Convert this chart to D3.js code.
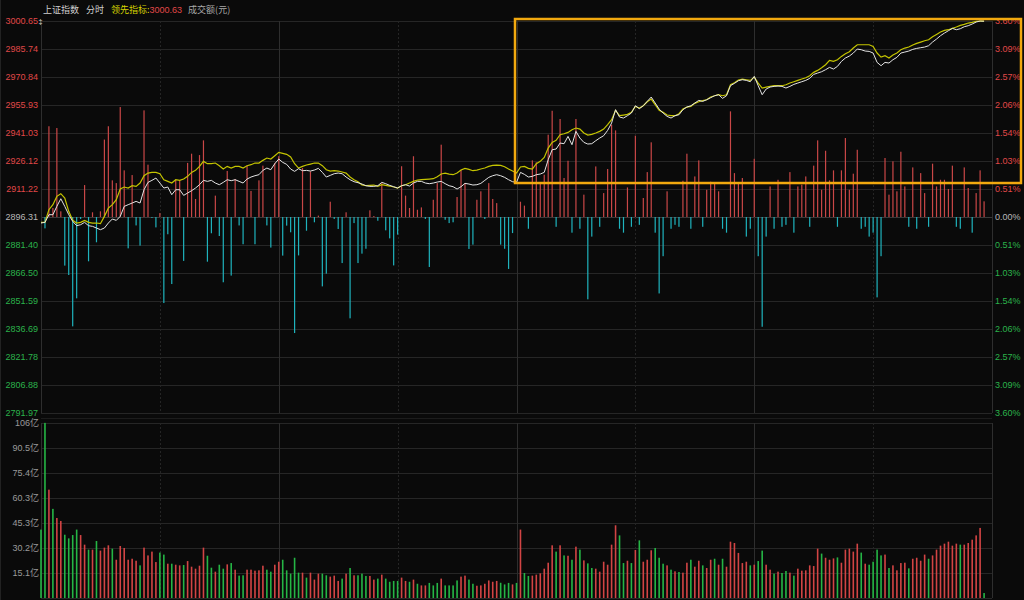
<!DOCTYPE html>
<html><head><meta charset="utf-8">
<script src="https://cdn.jsdelivr.net/npm/d3@7"></script>
<style>body{margin:0;background:#0a0a0a;overflow:hidden}svg{display:block}</style>
</head><body><svg id="c" width="1024" height="600"></svg>
<script>
const prevClose = 2896.31;
const priceTicks = [3000.65,2985.74,2970.84,2955.93,2941.03,2926.12,2911.22,2896.31,2881.40,2866.50,2851.59,2836.69,2821.78,2806.88,2791.97];
const pctTicks = ["3.60%","3.09%","2.57%","2.06%","1.54%","1.03%","0.51%","0.00%","0.51%","1.03%","1.54%","2.06%","2.57%","3.09%","3.60%"];
const volTickValues = [105.63,90.54,75.45,60.36,45.27,30.18,15.09];
const volTickLabels = ["106亿","90.5亿","75.4亿","60.3亿","45.3亿","30.2亿","15.1亿"];
const headerName = "上证指数", headerMode = "分时", headerLead = "领先指标:", headerLeadValue = "3000.63", headerVol = "成交额(元)";

const price = [2893.10,2893.45,2897.53,2897.53,2901.97,2906.05,2901.97,2897.53,2893.99,2891.68,
2892.21,2893.45,2891.68,2891.32,2890.44,2889.55,2890.44,2893.10,2895.23,2894.52,
2896.65,2901.97,2902.86,2903.74,2904.63,2903.74,2910.84,2914.75,2915.81,2917.05,
2914.39,2911.73,2912.26,2908.18,2910.84,2910.84,2907.83,2909.07,2910.31,2911.73,
2913.50,2915.81,2915.28,2915.81,2914.39,2913.50,2914.75,2916.16,2915.63,2916.16,
2915.28,2914.39,2916.52,2917.58,2918.29,2918.83,2921.13,2922.37,2921.49,2924.68,
2927.17,2925.39,2924.33,2921.84,2920.60,2922.02,2920.95,2921.13,2920.78,2921.31,
2922.20,2920.07,2917.58,2918.47,2919.36,2919.71,2919.36,2917.58,2916.16,2915.10,
2914.57,2913.86,2912.97,2912.62,2912.62,2912.97,2914.74,2914.04,2913.15,2912.44,
2911.73,2912.97,2913.50,2912.79,2914.39,2915.28,2915.28,2914.39,2914.04,2914.39,
2914.92,2915.28,2914.04,2912.97,2912.44,2911.20,2912.44,2914.21,2913.86,2913.33,
2913.50,2914.21,2915.81,2917.41,2918.29,2918.83,2918.29,2917.41,2916.16,2915.10,
2914.74,2920.07,2919.00,2917.58,2917.94,2918.83,2919.18,2920.07,2926.81,2932.13,
2932.49,2935.68,2935.33,2939.23,2934.79,2941.89,2938.34,2936.04,2935.15,2935.33,
2936.92,2938.34,2939.59,2942.42,2946.33,2953.43,2949.52,2948.99,2950.23,2951.65,
2955.55,2953.96,2955.55,2957.86,2960.17,2956.97,2953.78,2951.65,2949.88,2948.99,
2950.23,2950.76,2953.43,2954.84,2955.55,2956.97,2958.39,2957.86,2958.75,2959.81,
2960.88,2961.41,2959.46,2960.88,2966.20,2967.44,2968.86,2969.39,2969.04,2968.33,
2971.17,2966.20,2961.41,2964.43,2965.49,2965.84,2966.02,2965.84,2964.96,2965.84,
2966.91,2967.62,2968.33,2969.04,2970.10,2972.23,2972.94,2973.65,2974.72,2975.96,
2975.07,2976.49,2979.15,2980.93,2981.99,2983.59,2985.72,2985.36,2984.65,2984.48,
2983.59,2978.62,2976.85,2978.62,2978.27,2980.04,2981.28,2983.59,2984.12,2984.65,
2985.54,2986.07,2986.43,2986.78,2987.49,2989.44,2991.04,2992.82,2994.23,2995.48,
2996.72,2996.01,2996.54,2997.60,2998.14,2999.03,3000.09,3000.65,3000.55];

const leading = [2893.45,2893.45,2900.20,2902.86,2907.29,2908.71,2906.41,2899.31,2894.52,2893.10,
2893.45,2894.52,2893.45,2893.10,2893.10,2892.74,2896.65,2901.08,2902.86,2905.52,
2911.20,2912.26,2911.73,2912.97,2912.62,2914.39,2918.29,2919.71,2920.07,2920.07,
2919.36,2916.16,2915.28,2914.39,2916.16,2915.81,2916.52,2917.94,2920.07,2921.13,
2923.26,2925.92,2924.68,2924.68,2925.04,2923.62,2921.84,2923.26,2922.37,2923.26,
2923.26,2922.37,2923.62,2924.15,2925.04,2925.04,2926.46,2927.70,2927.17,2928.94,
2930.71,2930.18,2929.65,2928.23,2924.68,2922.37,2923.26,2923.97,2924.50,2925.04,
2925.04,2923.62,2921.49,2920.78,2920.95,2920.78,2920.25,2919.71,2917.58,2916.16,
2915.10,2913.33,2912.97,2913.15,2913.33,2912.62,2913.50,2913.15,2912.79,2912.26,
2911.73,2912.97,2913.50,2914.39,2915.28,2915.99,2916.16,2916.34,2916.52,2916.70,
2917.76,2919.18,2919.71,2919.18,2918.83,2919.71,2921.31,2922.20,2921.66,2920.95,
2921.31,2921.84,2922.37,2923.26,2923.79,2923.97,2923.79,2923.08,2921.84,2920.78,
2919.71,2922.91,2923.26,2922.20,2921.84,2924.68,2925.92,2928.05,2933.02,2936.04,
2937.10,2940.12,2940.65,2941.36,2942.78,2943.67,2943.13,2941.01,2939.94,2940.29,
2941.01,2941.89,2943.13,2945.44,2948.10,2953.07,2950.23,2950.59,2950.94,2952.01,
2955.20,2954.31,2955.55,2957.68,2959.10,2956.09,2953.07,2952.01,2950.59,2950.23,
2950.23,2951.30,2953.78,2954.84,2955.20,2956.80,2957.68,2958.22,2958.75,2960.17,
2960.88,2961.41,2960.88,2961.41,2966.73,2967.80,2969.22,2969.75,2969.39,2969.04,
2970.81,2967.62,2964.96,2965.49,2965.84,2966.20,2966.20,2966.20,2966.73,2967.62,
2968.33,2969.04,2969.75,2970.46,2971.52,2973.30,2974.36,2975.78,2977.38,2979.69,
2979.15,2980.04,2981.81,2983.23,2984.30,2986.25,2988.02,2988.02,2988.02,2988.02,
2987.14,2983.59,2981.46,2982.17,2980.93,2982.52,2983.59,2985.36,2986.25,2986.78,
2987.85,2988.73,2989.44,2990.15,2990.68,2992.28,2993.52,2994.77,2995.65,2996.01,
2996.72,2997.43,2998.31,2998.85,2999.56,2999.91,3000.44,3000.63,3000.63];

// buy/sell strength bars (percent of half panel), + red, - cyan
const strength = [0,-5.8,46.3,4.6,45.4,2.9,-24.8,-29.6,-55.8,-41.5,
-1.0,16.3,-22.6,2.4,-12.9,2.9,39.5,46.3,18.7,17.3,
56.1,23.8,-16.0,21.4,-4.3,-14.6,54.4,26.7,-0.5,-5.3,
2.0,-43.9,-8.8,-34.2,19.0,18.7,-22.4,27.6,32.3,9.2,
31.6,39.1,-22.8,-8.3,10.9,-9.7,-33.3,23.5,-29.9,19.4,
-4.3,-13.9,26.2,13.3,-13.9,18.7,26.2,-4.3,-15.6,27.6,
31.0,-19.7,-4.4,-7.8,-59.2,-19.6,25.0,-7.0,23.3,-2.7,
0.7,-35.4,-28.9,7.8,-1.0,-6.1,-23.5,2.4,-51.7,-3.1,
-23.5,-18.7,-16.2,3.4,0.5,-1.9,17.3,-6.8,-10.9,-24.7,
-9.0,25.9,10.9,4.6,31.0,3.7,4.9,-1.0,-25.5,8.8,
17.3,36.9,-1.4,-3.1,-2.7,10.2,24.1,17.3,-16.3,-14.1,
8.8,13.1,-1.0,17.3,9.2,7.1,-14.1,-16.2,-26.5,-8.2,
0,7.8,5.8,-6.0,28.9,27.9,17.8,21.6,42.0,54.2,
-5.0,50.0,19.9,28.7,-8.0,50.0,-6.0,11.4,-42.0,-10.0,
25.8,-5.0,12.2,24.5,47.1,44.2,-6.0,-8.0,15.1,-5.0,
41.5,-4.0,9.7,22.9,38.1,-8.0,-39.0,-20.0,13.1,-6.0,
-4.0,-5.0,18.5,32.3,-6.0,20.7,28.9,-5.0,13.9,18.0,
17.3,13.1,-6.0,-8.0,53.9,22.4,17.3,19.9,-10.0,-6.0,
29.7,-20.0,-56.0,-10.0,15.6,-6.0,19.0,-5.0,-4.0,22.9,
-8.0,15.6,16.5,20.7,-5.0,26.2,39.1,13.9,33.8,18.7,
23.8,-5.0,23.8,40.3,13.9,22.1,34.3,-6.0,-5.0,-10.0,
-8.0,-41.0,-20.0,30.1,11.4,28.4,13.1,33.3,15.6,-5.0,
25.3,-6.0,22.4,12.2,-5.0,27.2,15.6,19.0,19.0,14.3,
26.2,-5.0,-6.0,25.3,14.8,-8.0,12.2,23.8,8.0];

const volume = [41.3,105.7,65.4,53.8,48.3,46.5,38.2,36.0,38.0,41.3,
38.0,32.2,29.2,29.2,34.4,28.6,30.4,31.8,29.8,23.1,
31.4,30.2,23.1,23.7,22.5,19.7,30.4,25.7,28.0,21.7,
27.4,26.2,20.7,20.7,20.1,19.7,19.9,22.3,18.9,17.7,
19.5,30.4,25.5,18.3,15.9,20.1,17.7,20.3,21.1,17.1,
13.5,13.7,17.1,17.1,16.5,16.7,19.5,17.1,15.9,20.1,
21.9,23.1,16.7,14.7,24.3,15.3,15.3,12.3,15.3,11.1,
14.7,14.7,13.7,12.9,13.5,10.3,11.7,14.7,18.1,13.7,
13.7,14.7,13.3,13.3,11.1,11.7,14.1,11.7,9.8,10.3,
10.3,12.3,10.3,9.8,11.1,8.6,7.6,7.6,9.1,7.6,
9.1,11.7,7.6,7.6,7.6,10.6,12.9,13.5,11.1,8.6,
7.4,7.6,8.6,10.6,9.8,10.3,9.2,8.2,9.1,8.2,
9.1,41.3,15.1,13.3,13.5,14.1,14.9,17.7,21.3,31.8,
28.0,31.8,25.7,25.5,23.1,31.0,29.2,22.7,20.9,18.1,
17.7,15.9,21.9,20.1,32.2,43.9,37.8,21.1,22.5,21.1,
29.0,34.8,21.9,23.1,28.8,30.2,24.3,20.7,19.7,17.1,
16.1,15.7,15.3,21.3,23.1,18.9,22.5,19.7,18.1,23.1,
23.7,20.1,23.7,18.9,34.0,33.2,27.2,21.1,21.9,19.7,
20.1,22.3,28.6,20.1,17.1,14.7,15.9,15.1,16.3,15.3,
13.5,17.7,16.5,16.7,19.7,19.3,29.8,26.8,24.3,23.1,
23.9,24.5,21.3,29.2,29.8,28.0,32.8,27.4,20.7,20.1,
21.9,29.2,25.7,26.2,18.1,19.7,16.7,21.1,21.3,17.9,
23.7,24.3,22.5,26.2,23.7,25.7,29.2,31.6,32.8,34.0,
31.6,32.8,32.2,32.2,33.2,35.2,37.8,42.3,3.0];

// 1 = up minute (red), 0 = down minute (green)
const volUp = [0,0,1,0,1,1,0,0,0,0, 1,1,0,1,0,1,1,1,0,1,
1,1,1,1,1,0,1,1,1,1, 0,0,1,0,1,1,0,1,1,1,
1,1,0,0,1,0,0,1,0,1, 0,0,1,1,1,1,1,0,0,1,
1,0,0,0,0,0,1,0,1,1, 1,0,0,1,1,1,0,1,0,1,
0,0,0,1,1,0,1,0,0,0, 0,1,1,0,1,0,1,1,0,0,
0,1,0,0,0,0,1,1,0,0, 1,1,1,1,1,1,0,0,0,1,
0,1,0,0,1,1,1,1,1,1, 0,1,0,1,0,1,0,1,0,0,
1,1,1,1,1,1,0,0,1,0, 1,0,1,1,1,0,0,0,1,0,
1,0,1,1,0,1,1,0,1,1, 0,1,0,1,1,1,1,1,1,0,
1,0,0,1,1,0,1,0,0,1, 0,1,1,1,1,1,1,0,1,1,
1,0,1,1,1,1,1,0,1,0, 0,0,0,1,0,1,1,1,1,0,
1,1,1,1,0,1,1,1,1,1, 1,1,0,1,1,1,1,1,0];

const W = 1024, H = 600;
const L = 41, R = 992;
const svg = d3.select("#c");
svg.append("rect").attr("width",W).attr("height",H).attr("fill","#0a0a0a");

const x = d3.scaleLinear().domain([0,240]).range([L,R]);
const yP = d3.scaleLinear().domain([priceTicks[priceTicks.length-1], priceTicks[0]]).range([413,21]);
const yS = d3.scaleLinear().domain([-100,100]).range([413,21]);
const yV = d3.scaleLinear().domain([0, volTickValues[0]]).range([598,423]);

const RED = "#e04848", GRN = "#2bb34a", GRAY="#b8b8b8";
const grid = "#262626";

// horizontal grid, price panel
svg.append("g").selectAll("line").data(priceTicks).join("line")
  .attr("x1",L).attr("x2",R).attr("y1",d=>Math.round(yP(d))+0.5).attr("y2",d=>Math.round(yP(d))+0.5)
  .attr("stroke",(d,i)=> i===7 ? "#3a3a3a" : grid).attr("stroke-width",1);
// horizontal grid, volume panel
svg.append("g").selectAll("line").data([0].concat(volTickValues)).join("line")
  .attr("x1",L).attr("x2",R).attr("y1",d=>Math.round(yV(d))+0.5).attr("y2",d=>Math.round(yV(d))+0.5)
  .attr("stroke",grid);
// vertical grid
const vmins = [30,60,90,120,150,180,210];
[[21,413],[423,598]].forEach(([t,b])=>{
  svg.append("g").selectAll("line").data(vmins).join("line")
    .attr("x1",d=>Math.round(x(d))+0.5).attr("x2",d=>Math.round(x(d))+0.5)
    .attr("y1",t).attr("y2",b)
    .attr("stroke", d=> d%60===0 ? "#2e2e2e" : "#252525")
    .attr("stroke-dasharray", d=> d%60===0 ? null : "2,2");
  [L,R].forEach(px=>svg.append("line").attr("x1",px+0.5).attr("x2",px+0.5).attr("y1",t).attr("y2",b).attr("stroke","#2e2e2e"));
});
svg.append("line").attr("x1",0.5).attr("x2",0.5).attr("y1",0).attr("y2",H).attr("stroke","#222");
svg.append("line").attr("x1",L).attr("x2",R).attr("y1",418.5).attr("y2",418.5).attr("stroke","#1c1c1c");

// axis labels, price
const fontNum = "'Liberation Sans', Arial, sans-serif";
svg.append("g").selectAll("text").data(priceTicks).join("text")
  .attr("x",38).attr("y",d=>yP(d)+3.3).attr("text-anchor","end")
  .attr("font-family",fontNum).attr("font-size",9)
  .attr("fill",(d,i)=> i<7 ? RED : i===7 ? GRAY : GRN)
  .text(d=>d.toFixed(2));
svg.append("g").selectAll("text").data(pctTicks).join("text")
  .attr("x",995).attr("y",(d,i)=>yP(priceTicks[i])+3.3).attr("text-anchor","start")
  .attr("font-family",fontNum).attr("font-size",9)
  .attr("fill",(d,i)=> i<7 ? RED : i===7 ? GRAY : GRN)
  .text(d=>d);
// cursor mark at top-left
svg.append("text").attr("x",38.5).attr("y",yP(priceTicks[0])+3).attr("font-family",fontNum).attr("font-size",7).attr("fill","#e0e0e0").text("‡");
// volume labels
svg.append("g").selectAll("text").data(volTickValues).join("text")
  .attr("x",39).attr("y",d=>yV(d)+3.3).attr("text-anchor","end")
  .attr("font-family","'Liberation Sans','Noto Sans CJK SC',sans-serif").attr("font-size",9)
  .attr("fill","#9a9a9a")
  .text((d,i)=>volTickLabels[i]);

// header
const hf = "'Noto Sans CJK SC','Liberation Sans',sans-serif";
const hdr = svg.append("text").attr("x",43).attr("y",12.5).attr("font-family",hf).attr("font-size",9);
hdr.append("tspan").attr("fill","#cfcfcf").text(headerName);
hdr.append("tspan").attr("dx",7).attr("fill","#cfcfcf").text(headerMode);
hdr.append("tspan").attr("dx",7).attr("fill","#d6d600").text(headerLead);
hdr.append("tspan").attr("fill",RED).attr("font-family",fontNum).text(headerLeadValue);
hdr.append("tspan").attr("dx",6).attr("fill","#a8a8a8").text(headerVol);

// strength bars
const y0 = yS(0);
svg.append("g").selectAll("rect").data(strength).join("rect")
  .attr("x",(d,i)=>x(i)-0.6).attr("width",1.2)
  .attr("y",d=> d>=0 ? yS(d) : y0).attr("height",d=>Math.abs(yS(d)-y0))
  .attr("fill",d=> d>=0 ? "#c94747" : "#1fb3bd");

// volume bars
svg.append("g").selectAll("rect").data(volume).join("rect")
  .attr("x",(d,i)=>x(i)-0.8).attr("width",1.6)
  .attr("y",d=>yV(d)).attr("height",d=>yV(0)-yV(d))
  .attr("fill",(d,i)=> volUp[i] ? "#d24444" : "#25b545");

// lines
const line = d3.line().x((d,i)=>x(i)).y(d=>yP(d));
svg.append("path").datum(leading).attr("d",line).attr("fill","none").attr("stroke","#c4c400").attr("stroke-width",1.2);
svg.append("path").datum(price).attr("d",line).attr("fill","none").attr("stroke","#e4e4e4").attr("stroke-width",1);

// highlight box around afternoon rally
const hiStart = 120, hiLow = 2914.4;
svg.append("rect")
  .attr("x",x(hiStart)-1.5).attr("y",yP(priceTicks[0])-2)
  .attr("width",1021-(x(hiStart)-1.5)).attr("height",yP(hiLow)-(yP(priceTicks[0])-2))
  .attr("fill","none").attr("stroke","#f2a90f").attr("stroke-width",2.5);
</script></body></html>
